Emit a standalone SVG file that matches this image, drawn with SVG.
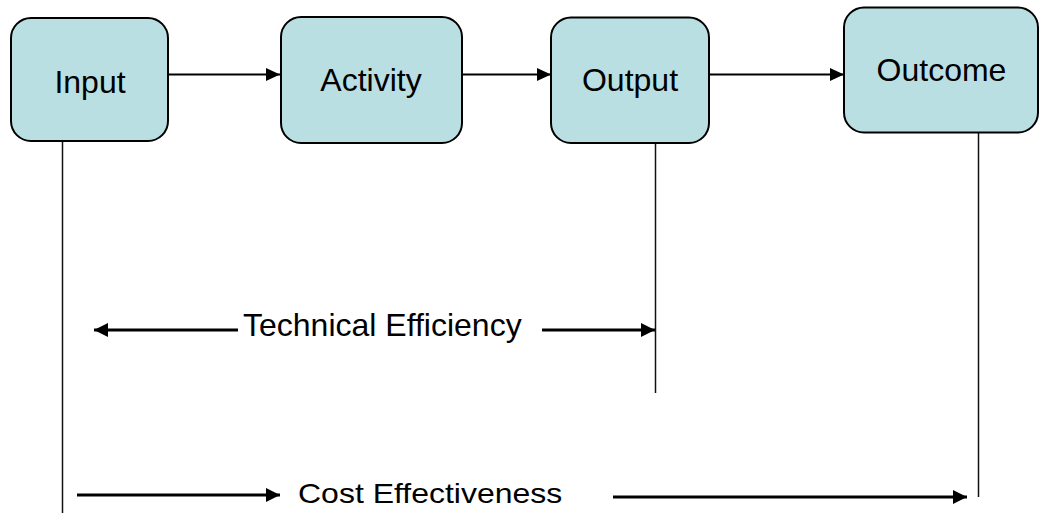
<svg xmlns="http://www.w3.org/2000/svg" width="1040" height="515" viewBox="0 0 1040 515">
  <style>
    .box { fill: #B9DFE3; stroke: #000; stroke-width: 2; }
    .lbl { font-family: "Liberation Sans", Arial, sans-serif; font-size: 32px; fill: #000; }
    .flow { stroke: #000; stroke-width: 2; fill: none; }
    .dim { stroke: #000; stroke-width: 3; fill: none; }
    .guide { stroke: #111; stroke-width: 1.5; fill: none; }
  </style>
  <defs>
    <marker id="ah" markerUnits="userSpaceOnUse" markerWidth="14" markerHeight="13" refX="14" refY="6.5" orient="auto">
      <path d="M0,0 L14,6.5 L0,13 Z" fill="#000"/>
    </marker>
    <marker id="ahd" markerUnits="userSpaceOnUse" markerWidth="14" markerHeight="14" refX="14" refY="7" orient="auto-start-reverse">
      <path d="M0,0 L14,7 L0,14 Z" fill="#000"/>
    </marker>
  </defs>
  <rect width="1040" height="515" fill="#fff"/>

  <g id="connectors">
    <line class="flow" x1="168" y1="74.5" x2="280" y2="74.5" marker-end="url(#ah)"/>
    <line class="flow" x1="462" y1="74.5" x2="551" y2="74.5" marker-end="url(#ah)"/>
    <line class="flow" x1="709" y1="74.5" x2="844" y2="74.5" marker-end="url(#ah)"/>
    <line class="guide" x1="62.5" y1="141" x2="62.5" y2="513"/>
    <line class="guide" x1="655.5" y1="143" x2="655.5" y2="393"/>
    <line class="guide" x1="978.5" y1="132" x2="978.5" y2="497"/>
    <line class="dim" x1="238" y1="330" x2="94" y2="330" marker-end="url(#ahd)"/>
    <line class="dim" x1="542" y1="330" x2="655" y2="330" marker-end="url(#ahd)"/>
    <line class="dim" x1="77" y1="495" x2="280" y2="495" marker-end="url(#ahd)"/>
    <line class="dim" x1="613" y1="497" x2="967" y2="497" marker-end="url(#ahd)"/>
  </g>

  <g id="input">
    <rect class="box" x="11" y="18" width="157" height="123" rx="20" ry="20"/>
    <text class="lbl" x="90" y="92.5" text-anchor="middle">Input</text>
  </g>
  <g id="activity">
    <rect class="box" x="281" y="17" width="181" height="126" rx="20" ry="20"/>
    <text class="lbl" x="371" y="91" text-anchor="middle">Activity</text>
  </g>
  <g id="output">
    <rect class="box" x="551" y="17.5" width="158" height="125.5" rx="20" ry="20"/>
    <text class="lbl" x="630" y="91" text-anchor="middle">Output</text>
  </g>
  <g id="outcome">
    <rect class="box" x="844" y="7.5" width="194" height="125" rx="20" ry="20"/>
    <text class="lbl" x="941.5" y="81" text-anchor="middle">Outcome</text>
  </g>

  <g id="technical-efficiency">
    <text class="lbl" x="243" y="336">Technical Efficiency</text>
  </g>
  <g id="cost-effectiveness">
    <text class="lbl" transform="translate(298,502.5) scale(1,0.85)">Cost Effectiveness</text>
  </g>
</svg>
